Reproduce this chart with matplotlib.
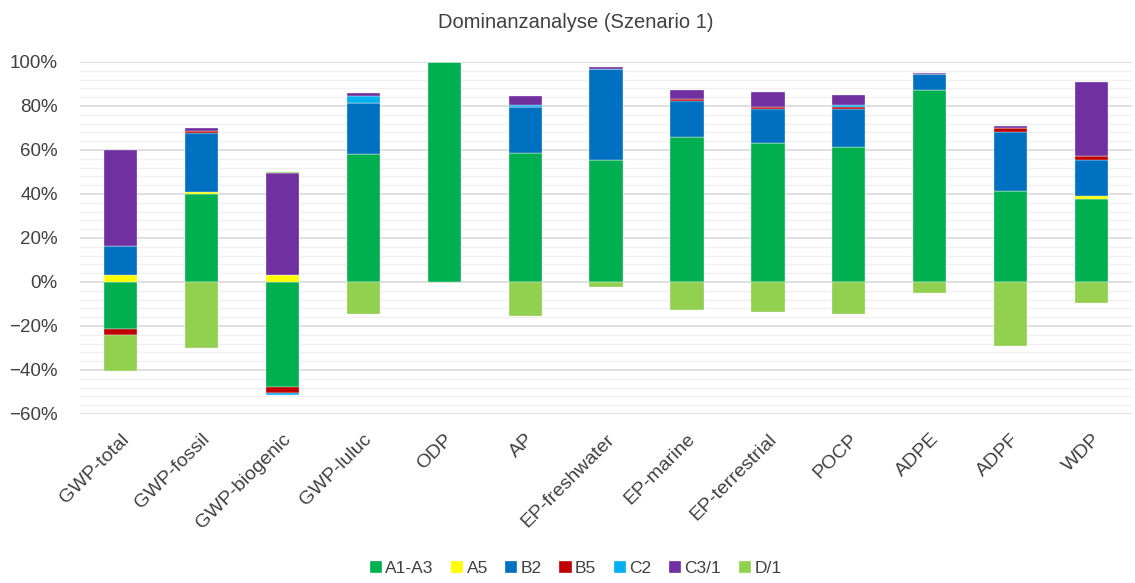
import numpy as np
import matplotlib.pyplot as plt
from matplotlib.ticker import MultipleLocator, PercentFormatter

plt.rcParams['font.family'] = ['Liberation Sans', 'DejaVu Sans']

# Wirkungskategorien
kategorien = ["GWP-total", "GWP-fossil", "GWP-biogenic", "GWP-luluc", "ODP", "AP",
              "EP-freshwater", "EP-marine", "EP-terrestrial", "POCP", "ADPE", "ADPF", "WDP"]

# Anteile in % je Modul
a1_a3 = [-21.4, 40.0, -47.6, 58.0, 100.0, 58.8, 55.5, 65.8, 63.0, 61.4, 87.4, 41.4, 37.9]
a5    = [3.0, 0.8, 3.0, 0.0, 0.0, 0.0, 0.0, 0.0, 0.0, 0.0, 0.0, 0.0, 1.2]
b2    = [13.5, 26.8, 0.0, 23.2, 0.0, 20.6, 41.3, 16.5, 15.6, 17.2, 7.0, 26.9, 16.2]
b5    = [-2.6, 0.9, -3.0, 0.0, 0.0, 0.0, 0.0, 0.8, 0.9, 0.8, 0.0, 1.9, 2.0]
c2    = [0.0, 0.0, -1.0, 3.3, 0.0, 0.9, 0.0, 0.0, 0.0, 1.0, 0.0, 0.0, 0.0]
c3_1  = [43.5, 1.6, 46.4, 1.3, 0.0, 4.4, 0.9, 4.3, 6.9, 4.4, 0.7, 0.7, 33.5]
d_1   = [-16.3, -30.0, 0.8, -14.5, 0.0, -15.5, -2.3, -12.7, -13.8, -14.5, -5.0, -29.1, -9.4]

module = ["A1-A3", "A5", "B2", "B5", "C2", "C3/1", "D/1"]
werte = [a1_a3, a5, b2, b5, c2, c3_1, d_1]
farben = ["#00B050", "#FFFF00", "#0070C0", "#C00000", "#00B0F0", "#7030A0", "#92D050"]

fig = plt.figure(figsize=(11.35, 5.83), dpi=100)
ax = fig.add_axes([0.0705, 0.29, 0.927, 0.6037])

x = np.arange(len(kategorien))
pos_boden = np.zeros(len(kategorien))
neg_boden = np.zeros(len(kategorien))

# positive und negative Werte getrennt stapeln (wie in Excel)
for name, w, f in zip(module, werte, farben):
    w = np.array(w)
    boden = np.where(w >= 0, pos_boden, neg_boden)
    ax.bar(x, w, 0.41, bottom=boden, color=f, label=name,
           edgecolor="#F4F4F4", linewidth=0.25, zorder=3)
    pos_boden = pos_boden + np.where(w > 0, w, 0)
    neg_boden = neg_boden + np.where(w < 0, w, 0)

ax.set_xlim(-0.5, len(kategorien) - 0.5)
ax.set_ylim(-60, 100)
ax.yaxis.set_major_locator(MultipleLocator(20))
ax.yaxis.set_minor_locator(MultipleLocator(4))
ax.yaxis.set_major_formatter(PercentFormatter(decimals=0))
ax.grid(axis="y", which="major", color="#D9D9D9", linewidth=1.2, zorder=0)
ax.grid(axis="y", which="minor", color="#F0F0F0", linewidth=1.0, zorder=0)
ax.set_axisbelow(True)

for s in ax.spines.values():
    s.set_visible(False)
ax.tick_params(axis="both", which="both", length=0)
ax.tick_params(axis="y", labelsize=13.5, colors="#404040", pad=16)
ax.set_xticks(x)
ax.set_xticklabels(kategorien, rotation=45, ha="right", rotation_mode="anchor",
                   fontsize=14, color="#404040")
ax.tick_params(axis="x", pad=12)

fig.text(0.507, 0.962, "Dominanzanalyse (Szenario 1)", ha="center", va="center",
         fontsize=14.5, color="#404040")

fig.legend(loc="center", bbox_to_anchor=(0.507, 0.025), ncol=7, frameon=False,
           fontsize=12.5, handlelength=0.7, handleheight=0.7, handletextpad=0.2,
           columnspacing=1.0, labelcolor="#404040")

fig.savefig("out.png", dpi=100)
